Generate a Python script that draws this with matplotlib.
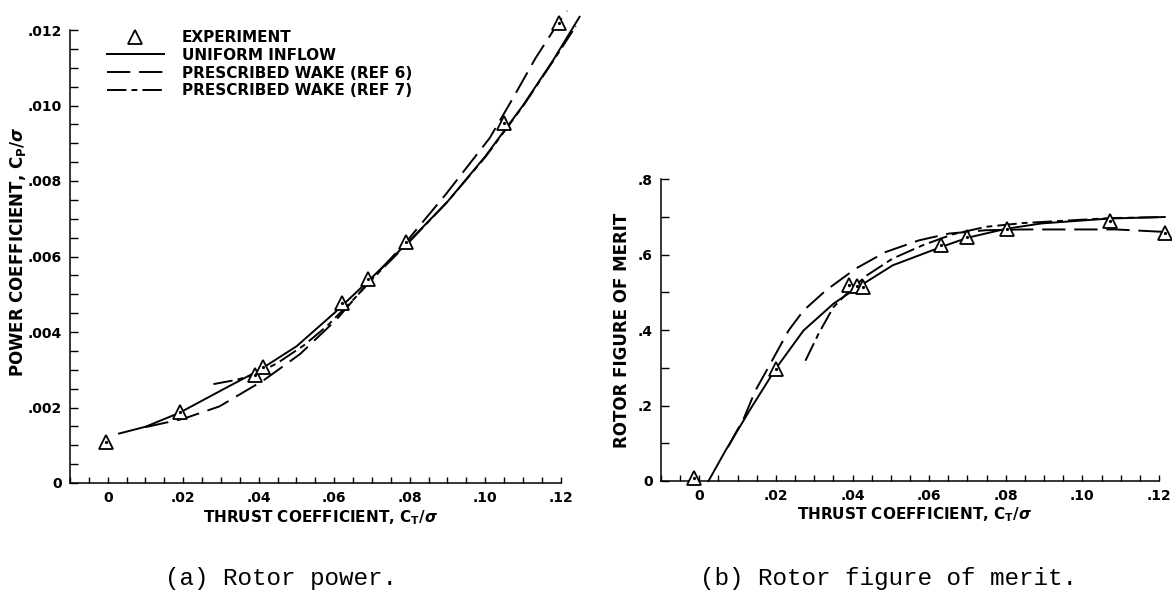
import matplotlib
matplotlib.use("Agg")
import matplotlib.pyplot as plt
from matplotlib.lines import Line2D
from matplotlib.ticker import MultipleLocator

plt.rcParams['font.family'] = ['DejaVu Sans']
plt.rcParams['font.weight'] = 'bold'
plt.rcParams['mathtext.default'] = 'regular'

# ---------------- data: (a) rotor power ----------------
exp_ct_a = [-0.0005, 0.0192, 0.0390, 0.0412, 0.0621, 0.0689, 0.0791, 0.1050, 0.1195]
exp_cp_a = [0.00108, 0.00188, 0.00286, 0.00307, 0.00478, 0.00541, 0.00639, 0.00953, 0.01218]

uni_ct_a = [0.003, 0.010, 0.019, 0.030, 0.040, 0.050, 0.060, 0.069, 0.079, 0.090, 0.100, 0.110, 0.118, 0.125]
uni_cp_a = [0.00131, 0.00149, 0.00186, 0.00245, 0.00298, 0.00362, 0.00450, 0.00535, 0.00632, 0.00745, 0.00865, 0.01000, 0.01120, 0.01235]

ref6_ct_a = [0.010, 0.020, 0.0296, 0.0413, 0.051, 0.0606, 0.069, 0.079, 0.0895, 0.1012, 0.1071, 0.1133, 0.1193, 0.1217]
ref6_cp_a = [0.00148, 0.00170, 0.00203, 0.00272, 0.00342, 0.00433, 0.00530, 0.00638, 0.00764, 0.00914, 0.01015, 0.01125, 0.01218, 0.01251]

ref7_ct_a = [0.028, 0.034, 0.039, 0.045, 0.052, 0.058, 0.065, 0.072, 0.080, 0.090, 0.100, 0.110, 0.118, 0.124]
ref7_cp_a = [0.00262, 0.00273, 0.00287, 0.00318, 0.00365, 0.00415, 0.00485, 0.00560, 0.00640, 0.00745, 0.00863, 0.00998, 0.01118, 0.01210]

# ---------------- data: (b) figure of merit ----------------
exp_ct_b = [-0.0015, 0.0199, 0.0392, 0.0411, 0.0428, 0.0630, 0.0700, 0.0802, 0.1071, 0.1215]
exp_fm_b = [0.008, 0.297, 0.519, 0.516, 0.514, 0.625, 0.647, 0.667, 0.690, 0.658]

uni_ct_b = [0.0024, 0.0068, 0.0136, 0.0199, 0.0272, 0.0350, 0.0408, 0.0505, 0.0630, 0.0700, 0.0802, 0.0894, 0.1071, 0.1215]
uni_fm_b = [0.0, 0.080, 0.195, 0.297, 0.399, 0.470, 0.510, 0.572, 0.620, 0.645, 0.669, 0.683, 0.696, 0.700]

ref6_ct_b = [0.0075, 0.0117, 0.0146, 0.0185, 0.0233, 0.0272, 0.0330, 0.0408, 0.0486, 0.0573, 0.0651, 0.0748, 0.0845, 0.0991, 0.1088, 0.1224]
ref6_fm_b = [0.090, 0.168, 0.239, 0.310, 0.399, 0.452, 0.505, 0.563, 0.607, 0.638, 0.656, 0.665, 0.667, 0.667, 0.667, 0.660]

ref7_ct_b = [0.0277, 0.0311, 0.0350, 0.0398, 0.0437, 0.0505, 0.0583, 0.0661, 0.0748, 0.0845, 0.0950, 0.1071, 0.1215]
ref7_fm_b = [0.319, 0.390, 0.461, 0.510, 0.545, 0.590, 0.625, 0.654, 0.674, 0.684, 0.690, 0.697, 0.700]

x_ticks = [0, 0.02, 0.04, 0.06, 0.08, 0.10, 0.12]
x_ticklabels = ['0', '.02', '.04', '.06', '.08', '.10', '.12']
ya_ticks = [0, 0.002, 0.004, 0.006, 0.008, 0.010, 0.012]
ya_ticklabels = ['0', '.002', '.004', '.006', '.008', '.010', '.012']
yb_ticks = [0, 0.2, 0.4, 0.6, 0.8]
yb_ticklabels = ['0', '.2', '.4', '.6', '.8']

legend_labels = ['EXPERIMENT', 'UNIFORM INFLOW', 'PRESCRIBED WAKE (REF 6)', 'PRESCRIBED WAKE (REF 7)']

# ---------------- styles ----------------
LW = 1.4
DASH = (0, (12, 4.5))
DASHDOT = (0, (10, 2.6, 3, 2.6))
MS = 9.5

fig = plt.figure(figsize=(11.72, 5.95), dpi=100)
ax1 = fig.add_axes([70/1172, 1-483/595, 490.7/1172, 453/595])
ax2 = fig.add_axes([661/1172, 1-481/595, 498/1172, 301.7/595])


def style_axes(ax, ymax, yt, ytl, yminor):
    for s in ('top', 'right'):
        ax.spines[s].set_visible(False)
    for s in ('left', 'bottom'):
        ax.spines[s].set_linewidth(1.1)
    ax.set_xlim(-0.01, 0.12)
    ax.set_ylim(0, ymax)
    ax.set_xticks(x_ticks)
    ax.set_xticklabels(x_ticklabels)
    ax.xaxis.set_minor_locator(MultipleLocator(0.005))
    ax.set_yticks(yt)
    ax.set_yticklabels(ytl)
    ax.yaxis.set_minor_locator(MultipleLocator(yminor))
    ax.tick_params(axis='both', which='both', direction='in', width=1.0, labelsize=10)
    ax.tick_params(axis='x', which='both', length=4.5, pad=6)
    ax.tick_params(axis='y', which='both', length=5.5, pad=6)


def draw(ax, ect, ev, uct, uv, r6ct, r6v, r7ct, r7v):
    ax.plot(uct, uv, color='black', lw=LW, clip_on=False)
    ax.plot(r6ct, r6v, color='black', lw=LW, linestyle=DASH, clip_on=False)
    ax.plot(r7ct, r7v, color='black', lw=LW, linestyle=DASHDOT, clip_on=False)
    ax.plot(ect, ev, linestyle='none', marker='^', ms=MS, mfc='white', mec='black', mew=1.3,
            clip_on=False, zorder=5)
    ax.plot(ect, ev, linestyle='none', marker='o', ms=1.3, color='black', clip_on=False, zorder=6)


style_axes(ax1, 0.012, ya_ticks, ya_ticklabels, 0.0005)
style_axes(ax2, 0.8, yb_ticks, yb_ticklabels, 0.1)

draw(ax1, exp_ct_a, exp_cp_a, uni_ct_a, uni_cp_a, ref6_ct_a, ref6_cp_a, ref7_ct_a, ref7_cp_a)
draw(ax2, exp_ct_b, exp_fm_b, uni_ct_b, uni_fm_b, ref6_ct_b, ref6_fm_b, ref7_ct_b, ref7_fm_b)

xlab = r'THRUST COEFFICIENT, C$_\mathbf{T}$/$\mathit{\sigma}$'
ax1.set_xlabel(xlab, fontsize=11, fontweight='bold')
ax2.set_xlabel(xlab, fontsize=11, fontweight='bold')
ax1.xaxis.label.set_va('center')
ax2.xaxis.label.set_va('center')
ax1.xaxis.set_label_coords(0.51, (483-518)/453)
ax2.xaxis.set_label_coords(0.51, (481-515)/301.7)

ax1.set_ylabel(r'POWER COEFFICIENT, C$_\mathbf{P}$/$\mathit{\sigma}$', fontsize=12, fontweight='bold')
ax2.set_ylabel('ROTOR FIGURE OF MERIT', fontsize=12, fontweight='bold')
ax1.yaxis.label.set_va('center')
ax2.yaxis.label.set_va('center')
ax1.yaxis.set_label_coords((18-70)/490.7, 0.51)
ax2.yaxis.set_label_coords((622-661)/498, 0.5)

handles = [
    Line2D([], [], linestyle='none', marker='^', ms=MS, mfc='white', mec='black', mew=1.3),
    Line2D([], [], color='black', lw=LW),
    Line2D([], [], color='black', lw=LW, linestyle=DASH),
    Line2D([], [], color='black', lw=LW, linestyle=DASHDOT),
]
ax1.legend(handles, legend_labels, loc='upper left', bbox_to_anchor=((107-70)/490.7, (483-30)/453),
           frameon=False, handlelength=3.7, handletextpad=1.2, labelspacing=0.18,
           borderpad=0, borderaxespad=0, prop={'weight': 'bold', 'size': 11})

fig.text(0.240, 1-578/595, '(a) Rotor power.', family='Liberation Mono', fontsize=17.5,
         fontweight='normal', ha='center', va='center')
fig.text(0.758, 1-578/595, '(b) Rotor figure of merit.', family='Liberation Mono', fontsize=17.5,
         fontweight='normal', ha='center', va='center')

fig.savefig('out.png', dpi=100)
